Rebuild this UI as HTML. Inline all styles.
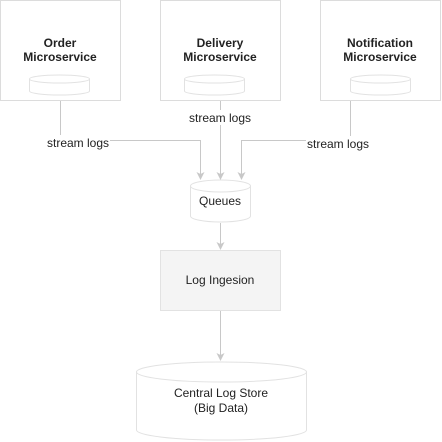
<!DOCTYPE html>
<html><head><style>
html,body{margin:0;padding:0;background:#fff;width:442px;height:442px;overflow:hidden}
svg text{font-family:"Liberation Sans",Arial,sans-serif;fill:#222;font-size:12px}
svg .b text{font-weight:bold}
</style></head><body>
<svg width="442" height="442" viewBox="0 0 442 442" xmlns="http://www.w3.org/2000/svg">
<g fill="#fff" stroke="#dcdcdc" stroke-width="1">
<rect x="0.5" y="0.5" width="120" height="100"/>
<rect x="160.5" y="0.5" width="120" height="100"/>
<rect x="320.5" y="0.5" width="120" height="100"/>
</g>
<g fill="none" stroke="#e2e2e2" stroke-width="1">
<path d="M29.5 79 A30 4 0 0 1 89.5 79 V91 A30 4 0 0 1 29.5 91 Z M29.5 79 A30 4 0 0 0 89.5 79"/>
<path d="M184.5 79 A30 4 0 0 1 244.5 79 V91 A30 4 0 0 1 184.5 91 Z M184.5 79 A30 4 0 0 0 244.5 79"/>
<path d="M350.5 79 A30 4 0 0 1 410.5 79 V91 A30 4 0 0 1 350.5 91 Z M350.5 79 A30 4 0 0 0 410.5 79"/>
<path d="M190.5 186 A30 6 0 0 1 250.5 186 V216 A30 6 0 0 1 190.5 216 Z M190.5 186 A30 6 0 0 0 250.5 186"/>
<path d="M136.5 372 A85 10 0 0 1 306.5 372 V430 A85 10 0 0 1 136.5 430 Z M136.5 372 A85 10 0 0 0 306.5 372"/>
</g>
<rect x="160.5" y="250.5" width="120" height="60" fill="#f4f4f4" stroke="#e2e2e2"/>
<g fill="none" stroke="#c8c8c8" stroke-width="1">
<path d="M60.5 101 V140.5 H200.5 V174"/>
<path d="M220.5 101 V174"/>
<path d="M350.5 101 V140.5 H241.5 V174"/>
<path d="M220.5 223 V245"/>
<path d="M220.5 311 V356"/>
</g>
<g fill="#c8c8c8">
<path d="M196.5 172 L200.5 180 L204.5 172 L200.5 174 Z"/>
<path d="M216.5 172 L220.5 180 L224.5 172 L220.5 174 Z"/>
<path d="M237.5 172 L241.5 180 L245.5 172 L241.5 174 Z"/>
<path d="M216.5 242 L220.5 250 L224.5 242 L220.5 244 Z"/>
<path d="M216.5 353 L220.5 361 L224.5 353 L220.5 355 Z"/>
</g>
<g fill="#fff">
<rect x="46" y="135" width="64" height="15"/>
<rect x="188" y="110" width="64" height="15"/>
<rect x="306" y="136" width="64" height="15"/>
</g>
<g class="b" text-anchor="middle">
<text x="60" y="47">Order</text><text x="60" y="61">Microservice</text>
<text x="220" y="47">Delivery</text><text x="220" y="61">Microservice</text>
<text x="380" y="47">Notification</text><text x="380" y="61">Microservice</text>
</g>
<g text-anchor="middle">
<text x="78" y="147">stream logs</text>
<text x="220" y="122">stream logs</text>
<text x="338" y="148">stream logs</text>
<text x="220" y="205">Queues</text>
<text x="220" y="284">Log Ingesion</text>
<text x="221" y="397">Central Log Store</text>
<text x="221" y="412">(Big Data)</text>
</g>
</svg>
</body></html>
